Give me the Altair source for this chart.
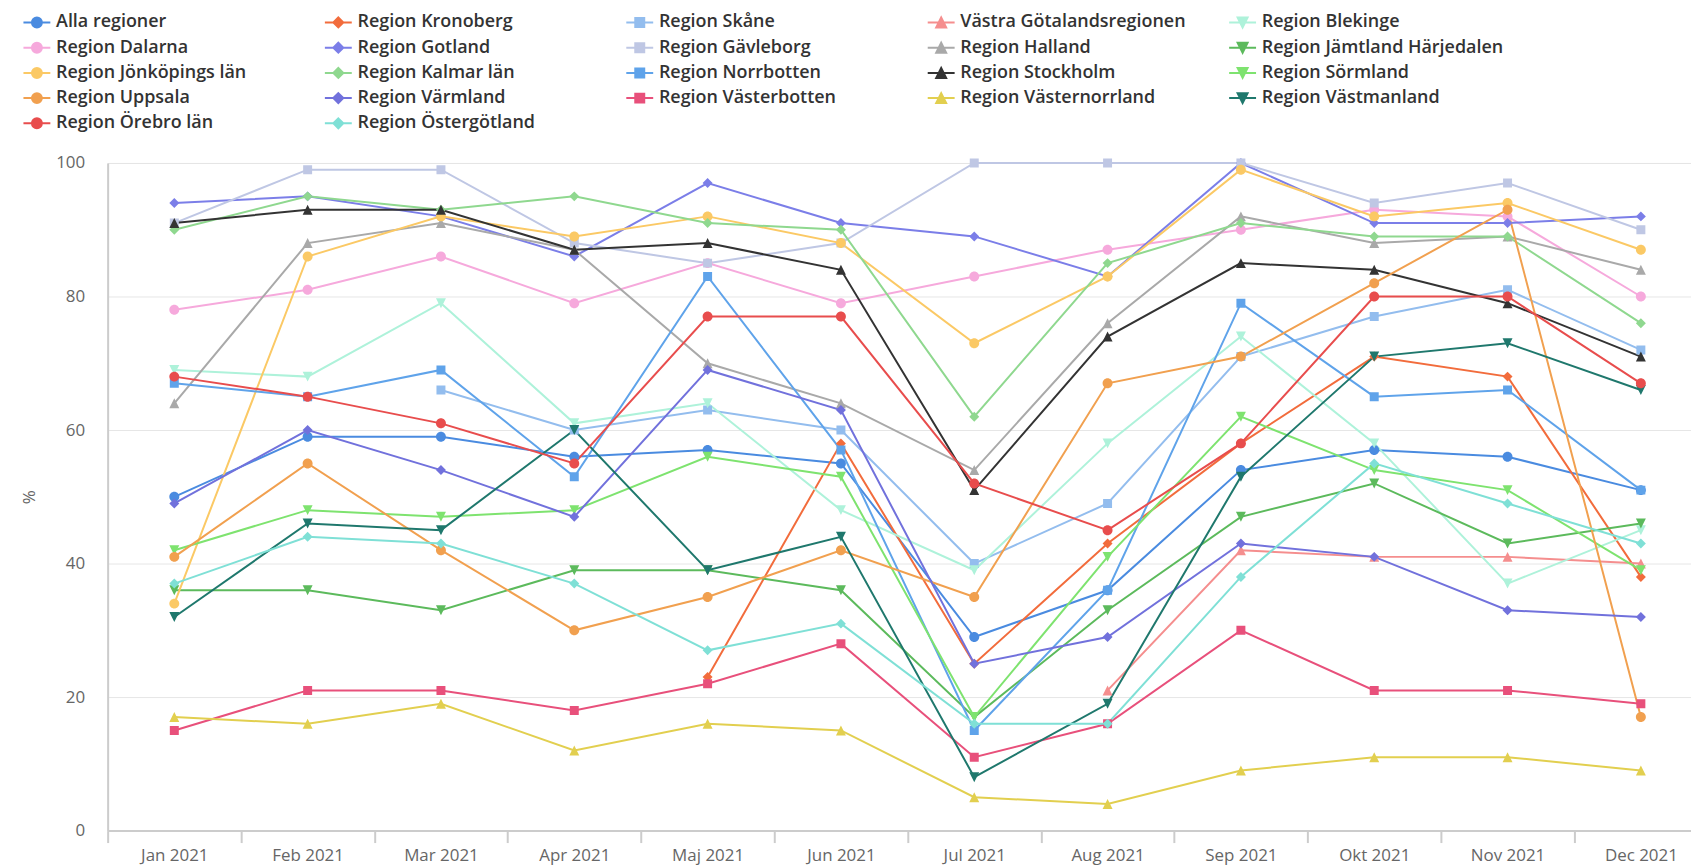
import json
import altair as alt
import pandas as pd

MONTHS = ["Jan 2021", "Feb 2021", "Mar 2021", "Apr 2021", "Maj 2021", "Jun 2021",
          "Jul 2021", "Aug 2021", "Sep 2021", "Okt 2021", "Nov 2021", "Dec 2021"]

N = None
alla_regioner = [50, 59, 59, 56, 57, 55, 29, 36, 54, 57, 56, 51]
kronoberg = [N, N, N, N, 23, 58, 25, 43, 58, 71, 68, 38]
skane = [N, N, 66, 60, 63, 60, 40, 49, 71, 77, 81, 72]
vastra_gotaland = [N, N, N, N, N, N, N, 21, 42, 41, 41, 40]
blekinge = [69, 68, 79, 61, 64, 48, 39, 58, 74, 58, 37, 45]
dalarna = [78, 81, 86, 79, 85, 79, 83, 87, 90, 93, 92, 80]
gotland = [94, 95, 92, 86, 97, 91, 89, 83, 100, 91, 91, 92]
gavleborg = [91, 99, 99, 88, 85, 88, 100, 100, 100, 94, 97, 90]
halland = [64, 88, 91, 87, 70, 64, 54, 76, 92, 88, 89, 84]
jamtland = [36, 36, 33, 39, 39, 36, 17, 33, 47, 52, 43, 46]
jonkoping = [34, 86, 92, 89, 92, 88, 73, 83, 99, 92, 94, 87]
kalmar = [90, 95, 93, 95, 91, 90, 62, 85, 91, 89, 89, 76]
norrbotten = [67, 65, 69, 53, 83, 57, 15, 36, 79, 65, 66, 51]
stockholm = [91, 93, 93, 87, 88, 84, 51, 74, 85, 84, 79, 71]
sormland = [42, 48, 47, 48, 56, 53, 17, 41, 62, 54, 51, 39]
uppsala = [41, 55, 42, 30, 35, 42, 35, 67, 71, 82, 93, 17]
varmland = [49, 60, 54, 47, 69, 63, 25, 29, 43, 41, 33, 32]
vasterbotten = [15, 21, 21, 18, 22, 28, 11, 16, 30, 21, 21, 19]
vasternorrland = [17, 16, 19, 12, 16, 15, 5, 4, 9, 11, 11, 9]
vastmanland = [32, 46, 45, 60, 39, 44, 8, 19, 53, 71, 73, 66]
orebro = [68, 65, 61, 55, 77, 77, 52, 45, 58, 80, 80, 67]
ostergotland = [37, 44, 43, 37, 27, 31, 16, 16, 38, 55, 49, 43]

SERIES = [
    ("Alla regioner", alla_regioner),
    ("Region Kronoberg", kronoberg),
    ("Region Skåne", skane),
    ("Västra Götalandsregionen", vastra_gotaland),
    ("Region Blekinge", blekinge),
    ("Region Dalarna", dalarna),
    ("Region Gotland", gotland),
    ("Region Gävleborg", gavleborg),
    ("Region Halland", halland),
    ("Region Jämtland Härjedalen", jamtland),
    ("Region Jönköpings län", jonkoping),
    ("Region Kalmar län", kalmar),
    ("Region Norrbotten", norrbotten),
    ("Region Stockholm", stockholm),
    ("Region Sörmland", sormland),
    ("Region Uppsala", uppsala),
    ("Region Värmland", varmland),
    ("Region Västerbotten", vasterbotten),
    ("Region Västernorrland", vasternorrland),
    ("Region Västmanland", vastmanland),
    ("Region Örebro län", orebro),
    ("Region Östergötland", ostergotland),
]

COLORS = ["#4a8be0", "#f26c3c", "#93bdee", "#f58e8e", "#aef2da",
          "#f6a9dc", "#7b7ee8", "#bfc7e4", "#a9a9a9", "#5cba5c",
          "#fbc965", "#8fd88f", "#5fa3ea", "#333333", "#7ee36f",
          "#f1a04f", "#7171dc", "#e8507b", "#e2cf4f", "#1f786d",
          "#e84d4d", "#7fe0d6"]

MARKERS = ["circle", "diamond", "square", "triangle", "triangle-down"]

LINE = "M-2.7,0H2.7"
PATHS = {
    "circle": LINE + "M1,0A1,1,0,1,1,-1,0A1,1,0,1,1,1,0Z",
    "diamond": LINE + "M0,-1L1,0L0,1L-1,0Z",
    "square": LINE + "M-0.9,-0.9H0.9V0.9H-0.9Z",
    "triangle": LINE + "M0,-1L1,1H-1Z",
    "triangle-down": LINE + "M-1,-1H1L0,1Z",
}

names = [s[0] for s in SERIES]
shape_range = [PATHS[MARKERS[i % len(MARKERS)]] for i in range(len(names))]

rows = []
for name, vals in SERIES:
    for i, v in enumerate(vals):
        if v is not None:
            rows.append({"region": name, "idx": i, "value": v})
df = pd.DataFrame(rows)

months_expr = json.dumps(MONTHS, ensure_ascii=False)
tick_vals = sorted([i - 0.5 for i in range(len(MONTHS))] + list(range(len(MONTHS))))

FONT = "Open Sans"

x_enc = alt.X(
    "idx:Q",
    scale=alt.Scale(domain=[-0.5, 11.376], nice=False, zero=False),
    axis=alt.Axis(
        values=tick_vals, title=None, grid=False,
        labelExpr=f"datum.value % 1 === 0 ? {months_expr}[datum.value] : ''",
        labelOverlap=False, labelFlush=False,
        tickOpacity={"condition": {"test": "datum.value % 1 !== 0", "value": 1}, "value": 0},
        tickSize=12, tickWidth=2, tickColor="#cccccc",
        domainColor="#cccccc", domainWidth=2,
        labelPadding=5, labelFont=FONT, labelFontSize=17, labelColor="#666666",
    ),
)

y_enc = alt.Y(
    "value:Q",
    scale=alt.Scale(domain=[0, 100], nice=False),
    axis=alt.Axis(
        values=[0, 20, 40, 60, 80, 100], title="%",
        grid=True, gridColor="#e6e6e6", gridWidth=1,
        ticks=False, tickSize=0,
        domain=True, domainColor="#cccccc", domainWidth=2,
        labelPadding=23, labelFont=FONT, labelFontSize=17, labelColor="#666666",
        titleFont=FONT, titleFontSize=17, titleFontWeight="normal", titleColor="#666666",
        titleAngle=270, titleX=-78, titleY=335, titleAlign="center", titleBaseline="middle",
    ),
)

legend = alt.Legend(
    title=None, orient="none", legendX=-80, legendY=-150, direction="horizontal",
    columns=5, gridAlign="all", columnPadding=22.5, rowPadding=7.3,
    symbolSize=100, labelOffset=10.2, padding=0, symbolStrokeWidth=2,
    labelFont=FONT, labelFontSize=18, labelFontWeight=600, labelColor="#333333",
    labelLimit=400, symbolLimit=0,
)

col_scale = alt.Scale(domain=names, range=COLORS)
shape_scale = alt.Scale(domain=names, range=shape_range)

lines = alt.Chart(df).mark_line(strokeWidth=2).encode(
    x=x_enc, y=y_enc,
    stroke=alt.Stroke("region:N", scale=col_scale, legend=legend),
)

points = alt.Chart(df).mark_point(filled=True, opacity=1, size=100, strokeWidth=0).encode(
    x=x_enc, y=y_enc,
    fill=alt.Fill("region:N", scale=col_scale, legend=legend),
    stroke=alt.Stroke("region:N", scale=col_scale, legend=legend),
    shape=alt.Shape("region:N", scale=shape_scale, legend=legend),
)

chart = alt.layer(lines, points).properties(
    width=1589, height=670,
    padding={"left": 100, "top": 154, "right": 0, "bottom": 35},
    autosize=alt.AutoSizeParams(type="none"),
).configure_view(stroke=None).configure(font=FONT)

chart.save("out.html", embed_options={"renderer": "svg", "actions": False})
